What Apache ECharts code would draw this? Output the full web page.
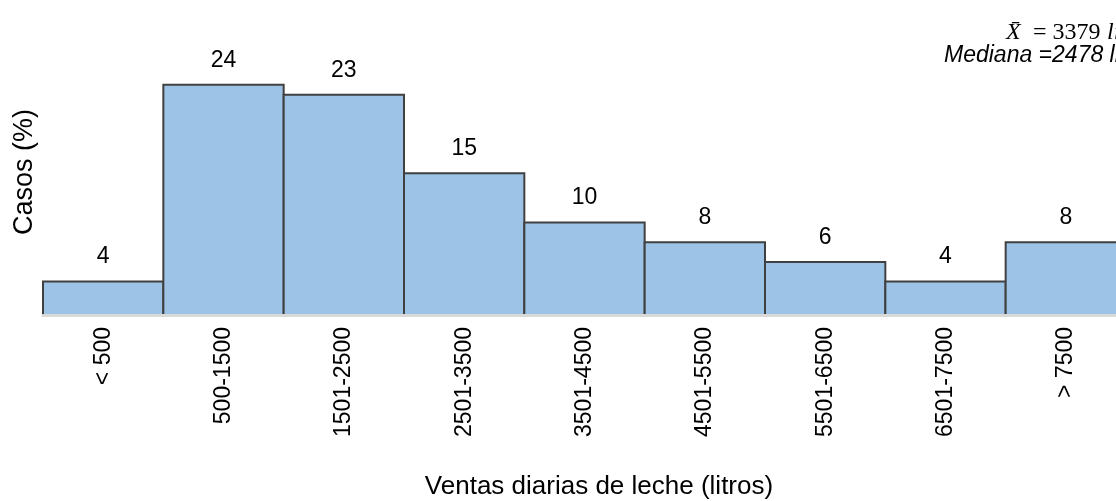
<!DOCTYPE html>
<html>
<head>
<meta charset="utf-8">
<style>
  html, body { margin: 0; padding: 0; background: #ffffff; overflow: hidden; }
  #chart { width: 1140px; height: 501px; }
</style>
<script src="https://cdn.jsdelivr.net/npm/echarts@6/dist/echarts.min.js"></script>
</head>
<body>
<div id="chart"></div>
<script>
// Daily milk sales ranges (litres) and share of cases (%)
const categories = ['< 500', '500-1500', '1501-2500', '2501-3500', '3501-4500', '4501-5500', '5501-6500', '6501-7500', '> 7500'];
const casos = [4, 24, 23, 15, 10, 8, 6, 4, 8];

const gridLeft = 43;
const gridWidth = 1083;
const borderW = 2;
// bars sit edge to edge; the border is drawn inside each bar, so widen by its width
const barW = gridWidth / categories.length + borderW;

const chart = echarts.init(document.getElementById('chart'), null, { renderer: 'canvas' });

const sans = 'Liberation Sans, Arial, sans-serif';
const serif = 'Liberation Serif, serif';

function statText(x, y, text, italic) {
  return {
    type: 'text',
    position: [x, y],
    style: {
      text: text,
      fontFamily: serif,
      fontStyle: italic ? 'italic' : 'normal',
      fontSize: 24,
      fill: '#000000',
      align: 'left',
      verticalAlign: 'middle'
    }
  };
}

chart.setOption({
  animation: false,
  backgroundColor: '#ffffff',
  grid: { left: gridLeft, width: gridWidth, top: 74, bottom: 186, containLabel: false },
  xAxis: {
    type: 'category',
    data: categories,
    z: 5,
    axisLine: { show: true, lineStyle: { color: '#d9d9d9', width: 3 } },
    axisTick: { show: false },
    axisLabel: {
      rotate: 90,
      margin: 12,
      color: '#000000',
      fontFamily: sans,
      fontSize: 23
    }
  },
  yAxis: {
    type: 'value',
    min: 0.5,
    max: 25,
    show: false,
    splitLine: { show: false }
  },
  series: [{
    type: 'bar',
    data: casos,
    barWidth: barW,
    barCategoryGap: '0%',
    itemStyle: { color: '#9dc3e6', borderColor: '#404040', borderWidth: borderW },
    label: {
      show: true,
      position: 'top',
      distance: 12,
      color: '#000000',
      fontFamily: sans,
      fontSize: 23
    }
  }],
  graphic: [
    {
      type: 'text',
      position: [25, 172],
      rotation: Math.PI / 2,
      style: {
        text: 'Casos (%)',
        fontFamily: sans,
        fontSize: 27,
        fill: '#000000',
        align: 'center',
        verticalAlign: 'middle'
      }
    },
    {
      type: 'text',
      position: [599, 487],
      style: {
        text: 'Ventas diarias de leche (litros)',
        fontFamily: sans,
        fontSize: 26,
        fill: '#000000',
        align: 'center',
        verticalAlign: 'middle'
      }
    },
    // mean line: X̄ = 3379 litros
    statText(1006, 33, 'X\u0304', true),
    statText(1033, 33, '= 3379', false),
    statText(1107, 33, 'litros', true),
    {
      type: 'text',
      position: [944, 56],
      style: {
        text: 'Mediana =2478 litros',
        fontFamily: sans,
        fontStyle: 'italic',
        fontSize: 23,
        fill: '#000000',
        align: 'left',
        verticalAlign: 'middle'
      }
    }
  ]
});
</script>
</body>
</html>
